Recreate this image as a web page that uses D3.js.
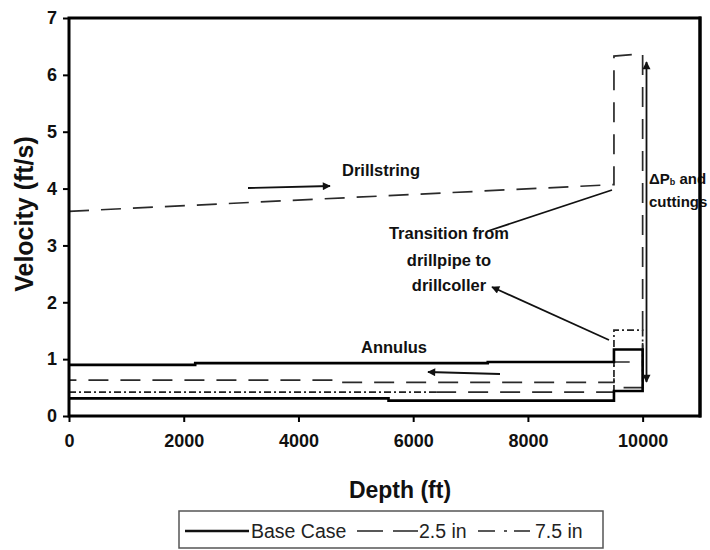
<!DOCTYPE html>
<html>
<head>
<meta charset="utf-8">
<script src="https://cdn.jsdelivr.net/npm/d3@7"></script>
<style>
  html, body { margin: 0; padding: 0; background: #fff; }
  svg { display: block; }
  text { font-family: "Liberation Sans", Arial, sans-serif; }
</style>
</head>
<body>
<svg id="chart" width="710" height="550"></svg>
<script>
// Axis ticks
const depthTicks = [0, 2000, 4000, 6000, 8000, 10000];
const velocityTicks = [0, 1, 2, 3, 4, 5, 6, 7];

// Base case: annulus velocity out and back through the collar section (null = break)
const depthBase = [0, 2200, 2200, 7300, 7300, 9500, 9500, 10000, 10000, 9500, 9500, 5570, 5570, 0];
const velBase   = [0.90, 0.90, 0.93, 0.93, 0.95, 0.95, 1.17, 1.17, 0.44, 0.44, 0.27, 0.27, 0.31, 0.31];

// 2.5 in: drillstring velocity, collar jump, then back up the annulus
const depth25 = [0, 9500, 9500, 10000, 10000, 9500, 9500, 4600, 4600, 0, null, 6400, 9500, 9500, 10000, 10000];
const vel25   = [3.60, 4.07, 6.33, 6.37, 0.95, 0.95, 0.59, 0.59, 0.63, 0.63, null, 0.42, 0.42, 0.50, 0.50, 0.95];

// 7.5 in
const depth75 = [0, 6400, null, 9500, 9500, 10000, 10000];
const vel75   = [0.42, 0.42, null, 0.42, 1.51, 1.51, 0.50];

const legendLabels = ["Base Case", "2.5 in", "7.5 in"];

const svg = d3.select("#chart");
const x = d3.scaleLinear().domain([0, 11000]).range([69, 700]);
const y = d3.scaleLinear().domain([0, 7]).range([416, 18]);

const defs = svg.append("defs");
defs.append("marker")
  .attr("id", "head")
  .attr("viewBox", "0 0 10 10")
  .attr("refX", 9).attr("refY", 5)
  .attr("markerWidth", 10).attr("markerHeight", 8)
  .attr("markerUnits", "userSpaceOnUse")
  .attr("orient", "auto-start-reverse")
  .append("path").attr("d", "M0,0 L10,5 L0,10 Z").attr("fill", "#111");

const zip = (ds, vs) => ds.map((d, i) => [d, vs[i]]);
const line = d3.line()
  .defined(p => p[0] != null && p[1] != null)
  .x(p => x(p[0])).y(p => y(p[1]));

// Series
svg.append("path").datum(zip(depth75, vel75))
  .attr("d", line).attr("fill", "none")
  .attr("stroke", "#222").attr("stroke-width", 1.7)
  .attr("stroke-dasharray", "7,3,2,3");

svg.append("path").datum(zip(depth25, vel25))
  .attr("d", line).attr("fill", "none")
  .attr("stroke", "#2a2a2a").attr("stroke-width", 1.7)
  .attr("stroke-dasharray", "20,12");

svg.append("path").datum(zip(depthBase, velBase))
  .attr("d", line).attr("fill", "none")
  .attr("stroke", "#000").attr("stroke-width", 2.6);

// Frame
svg.append("rect")
  .attr("x", x(0)).attr("y", y(7))
  .attr("width", x(11000) - x(0)).attr("height", y(0) - y(7))
  .attr("fill", "none").attr("stroke", "#000").attr("stroke-width", 3);

// Axes
const xAxis = svg.append("g").attr("transform", `translate(0,${y(0)})`)
  .call(d3.axisBottom(x).tickValues(depthTicks).tickFormat(d3.format("d")).tickSize(6).tickPadding(12));
const yAxis = svg.append("g").attr("transform", `translate(${x(0)},0)`)
  .call(d3.axisLeft(y).tickValues(velocityTicks).tickFormat(d3.format("d")).tickSize(6).tickPadding(6));
[xAxis, yAxis].forEach(g => {
  g.select(".domain").remove();
  g.selectAll(".tick line").attr("stroke", "#000").attr("stroke-width", 2);
  g.selectAll(".tick text").attr("fill", "#111")
    .style("font-size", "18px").style("font-weight", "bold")
    .style("font-family", "'Liberation Sans', Arial, sans-serif");
});

// Axis titles
svg.append("text")
  .attr("x", 400).attr("y", 498)
  .attr("text-anchor", "middle")
  .style("font-size", "23px").style("font-weight", "bold").attr("fill", "#111")
  .text("Depth (ft)");
svg.append("text")
  .attr("transform", "translate(33,214) rotate(-90)")
  .attr("text-anchor", "middle")
  .style("font-size", "25px").style("font-weight", "bold").attr("fill", "#111")
  .text("Velocity (ft/s)");

// Annotations
const note = (tx, ty, s, size) => svg.append("text")
  .attr("x", tx).attr("y", ty).attr("text-anchor", "middle")
  .attr("dominant-baseline", "central")
  .style("font-size", size || "16.5px").style("font-weight", "bold").attr("fill", "#111")
  .text(s);
note(381, 170, "Drillstring");
note(449, 233, "Transition from");
note(449, 260, "drillpipe to");
note(449, 285, "drillcoller");
note(394, 347, "Annulus");

const arrow = (x1, y1, x2, y2, both) => {
  const l = svg.append("line")
    .attr("x1", x1).attr("y1", y1).attr("x2", x2).attr("y2", y2)
    .attr("stroke", "#111").attr("stroke-width", 1.8)
    .attr("marker-end", "url(#head)");
  if (both) l.attr("marker-start", "url(#head)");
};
arrow(248, 188, 330, 186);
arrow(609, 340, 492, 287);
arrow(500, 374, 428, 372);
arrow(646.5, 62, 646.5, 382, true);
svg.append("line")
  .attr("x1", 488).attr("y1", 231).attr("x2", 612).attr("y2", 190)
  .attr("stroke", "#111").attr("stroke-width", 1.8);

// Bit pressure drop label
const dp = svg.append("text").attr("x", 649).attr("y", 178)
  .attr("dominant-baseline", "central")
  .style("font-size", "15px").style("font-weight", "bold").attr("fill", "#111");
dp.append("tspan").text("\u0394P");
dp.append("tspan").attr("dy", 4).style("font-size", "9px").text("b");
dp.append("tspan").attr("dy", -4).text(" and");
svg.append("text").attr("x", 649).attr("y", 201)
  .attr("dominant-baseline", "central")
  .style("font-size", "15px").style("font-weight", "bold").attr("fill", "#111")
  .text("cuttings");

// Redraw right edge over the label overflow
svg.append("line").attr("x1", x(11000)).attr("x2", x(11000))
  .attr("y1", y(7) - 1.5).attr("y2", y(0) + 1.5)
  .attr("stroke", "#000").attr("stroke-width", 3);

// Legend
const lg = svg.append("g");
lg.append("rect").attr("x", 179).attr("y", 511).attr("width", 424).attr("height", 37)
  .attr("fill", "#fff").attr("stroke", "#555").attr("stroke-width", 1.5);
const ly = 531;
lg.append("line").attr("x1", 185).attr("x2", 249).attr("y1", ly).attr("y2", ly)
  .attr("stroke", "#111").attr("stroke-width", 2.6);
lg.append("line").attr("x1", 357).attr("x2", 418).attr("y1", ly).attr("y2", ly)
  .attr("stroke", "#222").attr("stroke-width", 1.7).attr("stroke-dasharray", "26,10");
lg.append("line").attr("x1", 478).attr("x2", 534).attr("y1", ly).attr("y2", ly)
  .attr("stroke", "#222").attr("stroke-width", 1.7).attr("stroke-dasharray", "17,9,3,7,16,4,3");
const lt = [[251, legendLabels[0]], [419, legendLabels[1]], [535, legendLabels[2]]];
lt.forEach(([tx, s]) => lg.append("text")
  .attr("x", tx).attr("y", ly).attr("dominant-baseline", "central")
  .style("font-size", "19.5px").attr("fill", "#222").text(s));
</script>
</body>
</html>
